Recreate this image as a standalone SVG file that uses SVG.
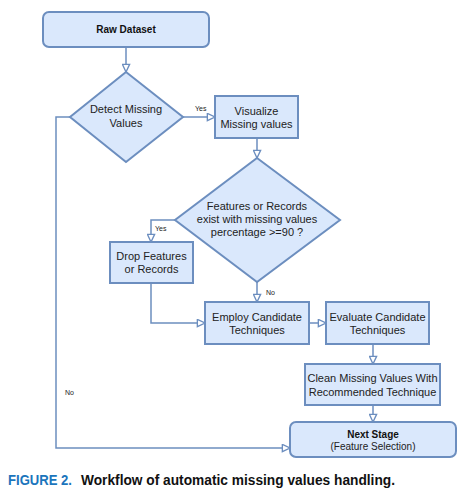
<svg xmlns="http://www.w3.org/2000/svg" width="464" height="496" viewBox="0 0 464 496">
<style>
.n{fill:#dae8fc;stroke:#6c8ebf;stroke-width:2}
.c{fill:none;stroke:#6c8ebf;stroke-width:1.5}
.t{font-family:"Liberation Sans",Arial,sans-serif;font-size:11px;fill:#222;text-anchor:middle}
.b{font-weight:bold;font-size:10px;fill:#111}
.s{font-size:10px}
.l{font-family:"Liberation Sans",Arial,sans-serif;font-size:7px;fill:#222}
.cap{font-family:"Liberation Sans",Arial,sans-serif;font-size:14px;font-weight:bold}
</style>
<defs>
<marker id="a" viewBox="0 0 10 10" refX="9.5" refY="5" markerWidth="9" markerHeight="9" markerUnits="userSpaceOnUse" orient="auto">
<path d="M1,1 L9.5,5 L1,9 Z" fill="#fff" stroke="#6c8ebf" stroke-width="1.5"/>
</marker>
</defs>
<rect width="464" height="496" fill="#fff"/>
<g id="connectors">
<path class="c" d="M126,47 V72" marker-end="url(#a)"/>
<path class="c" d="M183,117 H215" marker-end="url(#a)"/>
<path class="c" d="M257,138 V158" marker-end="url(#a)"/>
<path class="c" d="M175,220 H151 V242" marker-end="url(#a)"/>
<path class="c" d="M257,282 V302" marker-end="url(#a)"/>
<path class="c" d="M151,283 V323 H205" marker-end="url(#a)"/>
<path class="c" d="M309,323 H326" marker-end="url(#a)"/>
<path class="c" d="M373,344 V364" marker-end="url(#a)"/>
<path class="c" d="M373,405 V422" marker-end="url(#a)"/>
<path class="c" d="M70,117 H56 V448 H290" marker-end="url(#a)"/>
<text class="l" x="195" y="111">Yes</text>
<text class="l" x="155" y="231">Yes</text>
<text class="l" x="266" y="295">No</text>
<text class="l" x="65" y="395">No</text>
</g>
<g id="raw">
<rect class="n" x="43" y="12" width="166" height="35" rx="6"/>
<text class="t b" x="126" y="33">Raw Dataset</text>
</g>
<g id="detect">
<path class="n" d="M126,72 L183,117 L126,162 L70,117 Z"/>
<text class="t" x="126" y="113">Detect Missing</text>
<text class="t" x="126" y="127">Values</text>
</g>
<g id="visualize">
<rect class="n" x="215" y="96" width="83" height="42"/>
<text class="t" x="256.5" y="115">Visualize</text>
<text class="t" x="256.5" y="128">Missing values</text>
</g>
<g id="check">
<path class="n" d="M257,158 L340,220 L257,282 L175,220 Z"/>
<text class="t" x="257" y="210">Features or Records</text>
<text class="t" x="257" y="223">exist with missing values</text>
<text class="t" x="257" y="236">percentage &gt;=90 ?</text>
</g>
<g id="drop">
<rect class="n" x="110" y="242" width="83" height="41"/>
<text class="t" x="151.5" y="260">Drop Features</text>
<text class="t" x="151.5" y="273">or Records</text>
</g>
<g id="employ">
<rect class="n" x="205" y="302" width="104" height="42"/>
<text class="t" x="257" y="321">Employ Candidate</text>
<text class="t" x="257" y="334">Techniques</text>
</g>
<g id="evaluate">
<rect class="n" x="326" y="302" width="103" height="42"/>
<text class="t" x="377.5" y="321">Evaluate Candidate</text>
<text class="t" x="377.5" y="334">Techniques</text>
</g>
<g id="clean">
<rect class="n" x="305" y="364" width="135" height="41"/>
<text class="t" x="372.5" y="382">Clean Missing Values With</text>
<text class="t" x="372.5" y="396">Recommended Technique</text>
</g>
<g id="next">
<rect class="n" x="290" y="422" width="166" height="35" rx="6"/>
<text class="t b" x="373" y="438">Next Stage</text>
<text class="t s" x="373" y="450">(Feature Selection)</text>
</g>
<g id="caption">
<text class="cap" x="8" y="485" fill="#1b75bc" textLength="64" lengthAdjust="spacingAndGlyphs">FIGURE 2.</text>
<text class="cap" x="81" y="485" fill="#111" textLength="314" lengthAdjust="spacingAndGlyphs">Workflow of automatic missing values handling.</text>
</g>
</svg>
